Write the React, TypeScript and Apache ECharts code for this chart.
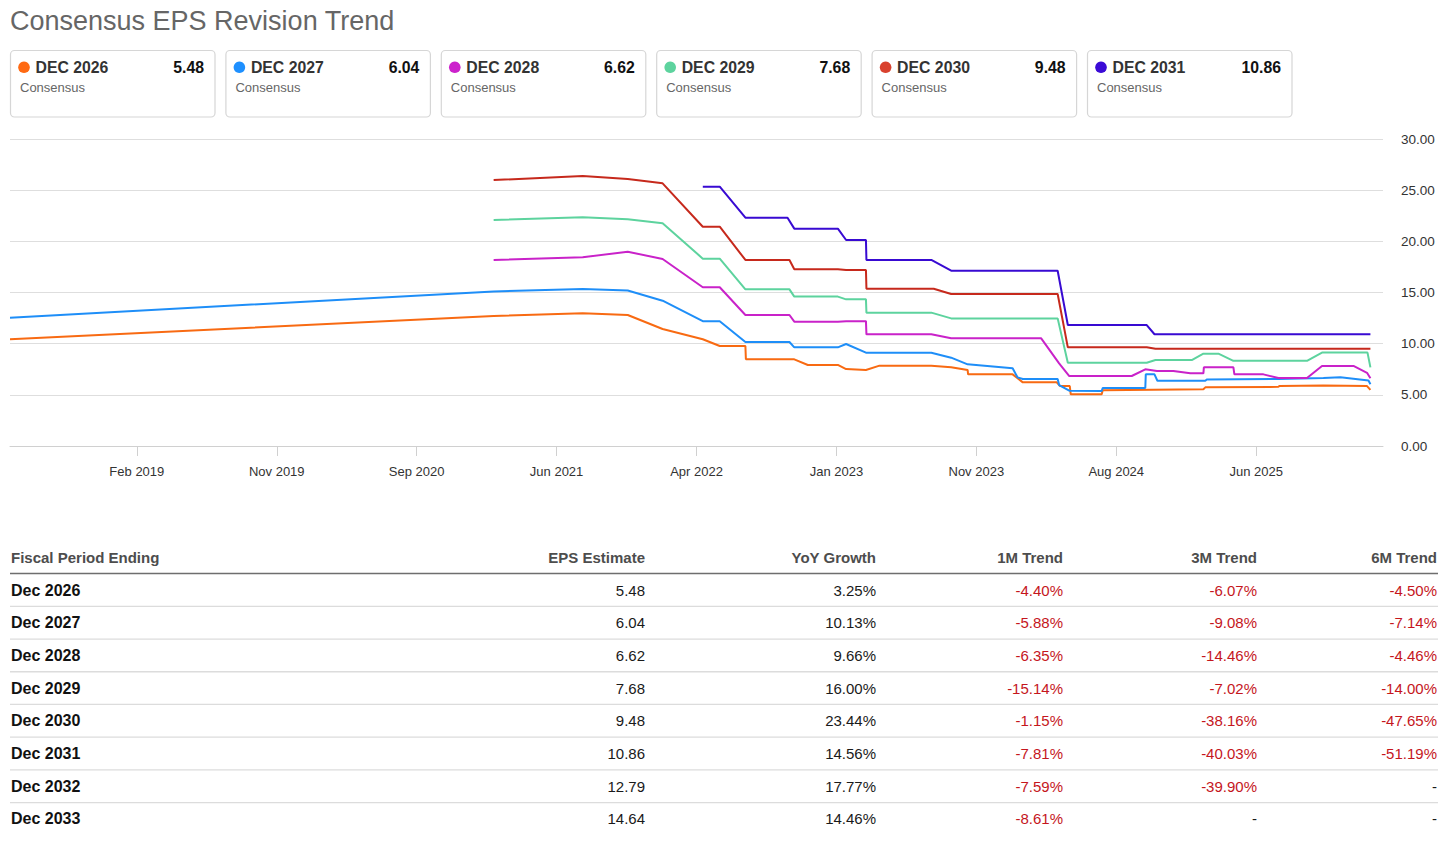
import React, { useEffect, useRef } from "react";
import * as echarts from "echarts";

const FONT = "'Helvetica Neue', Arial, 'Liberation Sans', sans-serif";

const titleText = "Consensus EPS Revision Trend";

const seriesNames = ["DEC 2026", "DEC 2027", "DEC 2028", "DEC 2029", "DEC 2030", "DEC 2031"];
const seriesColors = ["#F86A12", "#1E8EF8", "#C922C9", "#5DD39E", "#C6291C", "#380AD2"];
const dotColors = ["#FF6A13", "#1E90FF", "#CC22CC", "#5DD39E", "#D9412E", "#3B0BD6"];
const cardValues = ["5.48", "6.04", "6.62", "7.68", "9.48", "10.86"];
const cardSubtitle = "Consensus";

const xMin = "2018-05-15";
const xMax = "2026-02-18";
const tickDates = [
  "2019-02-01", "2019-11-17", "2020-09-01", "2021-06-17", "2022-04-02",
  "2023-01-16", "2023-11-01", "2024-08-16", "2025-06-01",
];
const monthNames = ["Jan", "Feb", "Mar", "Apr", "May", "Jun", "Jul", "Aug", "Sep", "Oct", "Nov", "Dec"];

const dec2026: [string, number][] = [
  ["2018-05-15", 10.43], ["2021-02-07", 12.7], ["2021-08-10", 12.97], ["2021-11-11", 12.8],
  ["2022-01-22", 11.43], ["2022-04-15", 10.43], ["2022-05-20", 9.77], ["2022-07-12", 9.77],
  ["2022-07-13", 8.47], ["2022-10-21", 8.47], ["2022-11-18", 7.92], ["2023-01-19", 7.92],
  ["2023-02-05", 7.52], ["2023-03-18", 7.43], ["2023-04-15", 7.85], ["2023-07-31", 7.85],
  ["2023-09-10", 7.69], ["2023-10-14", 7.43], ["2023-10-15", 7.0], ["2024-01-15", 7.0],
  ["2024-02-05", 6.22], ["2024-04-15", 6.22], ["2024-04-22", 5.86], ["2024-05-12", 5.86],
  ["2024-05-14", 5.05], ["2024-07-17", 5.05], ["2024-07-19", 5.45], ["2025-02-12", 5.55],
  ["2025-02-16", 5.73], ["2025-07-17", 5.78], ["2025-07-19", 5.86], ["2025-10-18", 5.92],
  ["2026-01-16", 5.86], ["2026-01-23", 5.48],
];
const dec2027: [string, number][] = [
  ["2018-05-15", 12.54], ["2021-02-07", 15.1], ["2021-08-10", 15.34], ["2021-11-11", 15.2],
  ["2022-01-22", 14.2], ["2022-04-15", 12.2], ["2022-05-20", 12.2], ["2022-07-12", 10.16],
  ["2022-10-11", 10.16], ["2022-10-21", 9.64], ["2023-01-19", 9.64], ["2023-02-05", 9.97],
  ["2023-03-18", 9.12], ["2023-07-31", 9.12], ["2023-09-10", 8.63], ["2023-10-14", 7.98],
  ["2024-01-15", 7.59], ["2024-01-25", 6.71], ["2024-02-05", 6.55], ["2024-04-17", 6.55],
  ["2024-04-20", 5.96], ["2024-05-11", 5.4], ["2024-07-17", 5.37], ["2024-07-19", 5.66],
  ["2024-10-15", 5.66], ["2024-10-16", 7.0], ["2024-11-03", 7.0], ["2024-11-09", 6.38],
  ["2025-02-16", 6.38], ["2025-02-19", 6.5], ["2025-07-17", 6.55], ["2025-10-18", 6.65],
  ["2025-11-22", 6.72], ["2026-01-19", 6.4], ["2026-01-23", 6.04],
];
const dec2028: [string, number][] = [
  ["2021-02-07", 18.18], ["2021-08-10", 18.44], ["2021-11-11", 18.99], ["2022-01-22", 18.27],
  ["2022-04-15", 15.51], ["2022-05-20", 15.51], ["2022-07-12", 12.8], ["2022-10-11", 12.8],
  ["2022-10-21", 12.15], ["2023-01-19", 12.15], ["2023-02-05", 12.2], ["2023-03-18", 12.2],
  ["2023-03-19", 10.91], ["2023-07-31", 10.91], ["2023-09-10", 10.52], ["2024-03-14", 10.52],
  ["2024-04-20", 8.08], ["2024-05-11", 6.84], ["2024-09-17", 6.84], ["2024-10-15", 7.49],
  ["2024-11-08", 7.33], ["2024-12-12", 7.33], ["2025-01-16", 7.1], ["2025-02-12", 7.1],
  ["2025-02-13", 7.69], ["2025-04-15", 7.69], ["2025-04-17", 7.0], ["2025-06-16", 7.0],
  ["2025-07-17", 6.65], ["2025-09-14", 6.65], ["2025-10-15", 7.82], ["2025-12-19", 7.82],
  ["2026-01-16", 7.15], ["2026-01-23", 6.62],
];
const dec2029: [string, number][] = [
  ["2021-02-07", 22.09], ["2021-08-10", 22.35], ["2021-11-11", 22.15], ["2022-01-22", 21.76],
  ["2022-04-15", 18.31], ["2022-05-20", 18.31], ["2022-07-12", 15.31], ["2022-10-11", 15.31],
  ["2022-10-21", 14.6], ["2023-01-19", 14.6], ["2023-02-05", 14.33], ["2023-03-18", 14.33],
  ["2023-03-19", 13.03], ["2023-07-31", 13.03], ["2023-09-10", 12.47], ["2024-04-17", 12.47],
  ["2024-05-08", 8.14], ["2024-10-18", 8.14], ["2024-11-05", 8.4], ["2025-01-19", 8.4],
  ["2025-02-12", 9.02], ["2025-03-15", 9.02], ["2025-04-15", 8.32], ["2025-09-14", 8.32],
  ["2025-10-15", 9.13], ["2026-01-17", 9.13], ["2026-01-23", 7.68],
];
const dec2030: [string, number][] = [
  ["2021-02-07", 25.99], ["2021-08-10", 26.38], ["2021-11-11", 26.09], ["2022-01-22", 25.67],
  ["2022-04-15", 21.43], ["2022-05-20", 21.43], ["2022-07-12", 18.18], ["2022-10-11", 18.18],
  ["2022-10-21", 17.27], ["2023-01-19", 17.27], ["2023-02-05", 17.2], ["2023-03-18", 17.2],
  ["2023-03-19", 15.37], ["2023-08-05", 15.37], ["2023-09-10", 14.85], ["2024-04-17", 14.85],
  ["2024-05-08", 9.64], ["2024-10-18", 9.64], ["2024-11-05", 9.5], ["2026-01-23", 9.5],
];
const dec2031: [string, number][] = [
  ["2022-04-15", 25.34], ["2022-05-20", 25.34], ["2022-07-12", 22.31], ["2022-10-07", 22.31],
  ["2022-10-21", 21.24], ["2023-01-19", 21.24], ["2023-02-05", 20.13], ["2023-03-18", 20.13],
  ["2023-03-19", 18.18], ["2023-07-31", 18.18], ["2023-09-10", 17.13], ["2024-04-17", 17.13],
  ["2024-05-08", 11.82], ["2024-10-18", 11.82], ["2024-11-03", 10.92], ["2026-01-23", 10.92],
];
const seriesData = [dec2026, dec2027, dec2028, dec2029, dec2030, dec2031];

const tableHeaders = ["Fiscal Period Ending", "EPS Estimate", "YoY Growth", "1M Trend", "3M Trend", "6M Trend"];
const periods = ["Dec 2026", "Dec 2027", "Dec 2028", "Dec 2029", "Dec 2030", "Dec 2031", "Dec 2032", "Dec 2033"];
const epsEstimates = ["5.48", "6.04", "6.62", "7.68", "9.48", "10.86", "12.79", "14.64"];
const yoyGrowth = ["3.25%", "10.13%", "9.66%", "16.00%", "23.44%", "14.56%", "17.77%", "14.46%"];
const trend1M = ["-4.40%", "-5.88%", "-6.35%", "-15.14%", "-1.15%", "-7.81%", "-7.59%", "-8.61%"];
const trend3M = ["-6.07%", "-9.08%", "-14.46%", "-7.02%", "-38.16%", "-40.03%", "-39.90%", "-"];
const trend6M = ["-4.50%", "-7.14%", "-4.46%", "-14.00%", "-47.65%", "-51.19%", "-", "-"];

const ts = (d: string) => Date.parse(d + "T00:00:00Z");

function buildGraphics(): any[] {
  const g: any[] = [];
  g.push({
    type: "text", x: 10, y: 21,
    style: { text: titleText, fill: "#666666", fontSize: 27, fontFamily: FONT, align: "left", verticalAlign: "middle" },
  });
  const pitch = 215.4;
  seriesNames.forEach((name, i) => {
    const x0 = 10 + i * pitch;
    g.push({
      type: "rect", shape: { x: x0 + 0.5, y: 50.5, width: 204.5, height: 66.5, r: 4 },
      style: { fill: "#ffffff", stroke: "#d6d6d6", lineWidth: 1.2 },
    });
    g.push({ type: "circle", shape: { cx: x0 + 14, cy: 67.3, r: 5.8 }, style: { fill: dotColors[i] } });
    g.push({
      type: "text", x: x0 + 25.5, y: 67.5,
      style: { text: name, fill: "#333333", fontSize: 15.8, fontWeight: "bold", fontFamily: FONT, align: "left", verticalAlign: "middle" },
    });
    g.push({
      type: "text", x: x0 + 194, y: 67.5,
      style: { text: cardValues[i], fill: "#111111", fontSize: 15.8, fontWeight: "bold", fontFamily: FONT, align: "right", verticalAlign: "middle" },
    });
    g.push({
      type: "text", x: x0 + 10, y: 87.5,
      style: { text: cardSubtitle, fill: "#666666", fontSize: 13, fontFamily: FONT, align: "left", verticalAlign: "middle" },
    });
  });

  const colX = [11, 645, 876, 1063, 1257, 1437];
  const headerY = 557;
  tableHeaders.forEach((h, c) => {
    g.push({
      type: "text", x: colX[c], y: headerY,
      style: { text: h, fill: "#4d4d4d", fontSize: 15, fontWeight: "bold", fontFamily: FONT, align: c === 0 ? "left" : "right", verticalAlign: "middle" },
    });
  });
  g.push({ type: "line", shape: { x1: 10, y1: 573.5, x2: 1438, y2: 573.5 }, style: { stroke: "#6e6e6e", lineWidth: 1.3 } });
  const rowH = 32.7;
  const row0 = 590;
  periods.forEach((p, r) => {
    const y = row0 + r * rowH;
    const cells = [p, epsEstimates[r], yoyGrowth[r], trend1M[r], trend3M[r], trend6M[r]];
    cells.forEach((t, c) => {
      const isTrend = c >= 3 && t !== "-";
      g.push({
        type: "text", x: colX[c], y,
        style: {
          text: t,
          fill: c === 0 ? "#111111" : isTrend ? "#C5161D" : "#1a1a1a",
          fontSize: c === 0 ? 16 : 15,
          fontWeight: c === 0 ? "bold" : "normal",
          fontFamily: FONT,
          align: c === 0 ? "left" : "right",
          verticalAlign: "middle",
        },
      });
    });
    if (r < periods.length - 1) {
      const ly = y + rowH / 2;
      g.push({ type: "line", shape: { x1: 10, y1: ly, x2: 1438, y2: ly }, style: { stroke: "#dcdcdc", lineWidth: 1.3 } });
    }
  });
  return g;
}

export default function App() {
  const ref = useRef<HTMLDivElement>(null);
  useEffect(() => {
    if (!ref.current) return;
    const chart = echarts.init(ref.current, undefined, { renderer: "svg" });
    const tickValues = tickDates.map(ts);
    chart.setOption({
      animation: false,
      backgroundColor: "#ffffff",
      textStyle: { fontFamily: FONT },
      grid: { left: 10, right: 73, top: 139, bottom: 413, containLabel: false },
      xAxis: {
        type: "value",
        min: ts(xMin),
        max: ts(xMax),
        axisLine: { show: true, lineStyle: { color: "#d0d0d0", width: 1 } },
        axisTick: { show: true, length: 10, customValues: tickValues, lineStyle: { color: "#d0d0d0" } },
        axisLabel: {
          customValues: tickValues,
          margin: 19,
          color: "#333333",
          fontSize: 13,
          fontFamily: FONT,
          formatter: (v: number) => {
            const d = new Date(v);
            return monthNames[d.getUTCMonth()] + " " + d.getUTCFullYear();
          },
        },
        splitLine: { show: false },
      },
      yAxis: {
        type: "value",
        position: "right",
        min: 0,
        max: 30,
        interval: 5,
        axisLine: { show: false },
        axisTick: { show: false },
        axisLabel: {
          margin: 18,
          color: "#333333",
          fontSize: 13.5,
          fontFamily: FONT,
          align: "left",
          formatter: (v: number) => v.toFixed(2),
        },
        splitLine: { show: true, lineStyle: { color: "#dedede", width: 1.2 } },
      },
      series: seriesNames.map((name, i) => ({
        name,
        type: "line",
        data: seriesData[i].map(([d, v]) => [ts(d), v]),
        showSymbol: false,
        symbol: "none",
        smooth: false,
        lineStyle: { color: seriesColors[i], width: 2 },
        itemStyle: { color: seriesColors[i] },
        z: 2 + i,
      })),
      graphic: buildGraphics(),
    });
    return () => chart.dispose();
  }, []);
  return (
    <div
      ref={ref}
      style={{ position: "fixed", left: 0, top: 0, width: 1456, height: 859, background: "#ffffff" }}
    />
  );
}
